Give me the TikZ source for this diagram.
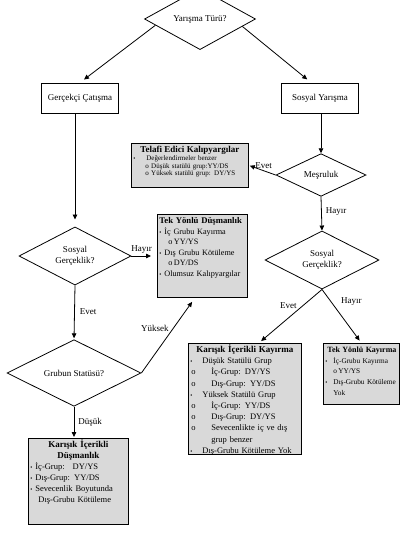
\documentclass[tikz,border=0pt]{standalone}
\usepackage{fontspec}
\setmainfont{Liberation Serif}
\usetikzlibrary{shapes.geometric,arrows.meta}

\begin{document}
\begin{tikzpicture}[x=1pt,y=-1pt,line width=0.8pt,
		karar/.style={draw,shape=diamond,inner sep=0pt,align=center,font=\fontsize{9}{10.5}\selectfont},
		kutu/.style={draw,rectangle,font=\fontsize{9}{10.5}\selectfont},
		gribox/.style={draw,fill=gray!30,anchor=north west,inner sep=2pt,align=left,text height=7pt},
		ok/.style={-{Triangle[length=5pt,width=4.5pt]}},
		etiket/.style={font=\fontsize{9}{10}\selectfont,inner sep=2pt}]
		\def\bl#1{\makebox[#1][l]{\fontsize{6}{6}\selectfont\textbullet}}
		\def\bas#1{{\bfseries\fontsize{9}{9}\selectfont #1}}
		\useasboundingbox (0,0) rectangle (418,535);
		% karar kutulari
		\node[karar,minimum width=111pt,minimum height=31pt] (yt) at (200,19) {Yarışma Türü?};
		\node[karar,minimum width=112pt,minimum height=50pt] (sgl) at (75,256) {Sosyal\\Gerçeklik?};
		\node[karar,minimum width=134pt,minimum height=62pt] (gs) at (74,373) {Grubun Statüsü?};
		\node[karar,minimum width=90pt,minimum height=36pt] (mes) at (321,175) {Meşruluk};
		\node[karar,minimum width=114pt,minimum height=50pt] (sgr) at (322,260) {Sosyal\\Gerçeklik?};
		% duz kutular
		\node[kutu,minimum width=77pt,minimum height=30pt] (gc) at (80,98) {Gerçekçi Çatışma};
		\node[kutu,minimum width=77pt,minimum height=30pt] (sy) at (320,98) {Sosyal Yarışma};
		% gri kutular
		\node[gribox,text width=113pt,text depth=33pt,font=\fontsize{7}{7.8}\selectfont] (tek) at (131,143)
		{\makebox[113pt]{\bas{Telafi Edici Kalıpyargılar}}\\
			\bl{13pt}Değerlendirmeler benzer\\
			\hspace*{12pt}o Düşük statülü grup:YY/DS\\
			\hspace*{12pt}o Yüksek statülü grup: DY/YS};
		\node[gribox,text width=86pt,text depth=72pt,font=\fontsize{8.2}{10.6}\selectfont] (tyd) at (157,214)
		{\makebox[86pt][l]{\bfseries\fontsize{8.7}{9}\selectfont Tek Yönlü Düşmanlık}\\
			\bl{5pt}İç Grubu Kayırma\\
			\hspace*{9pt}o\,YY/YS\\
			\bl{5pt}Dış Grubu Kötüleme\\
			\hspace*{9pt}o\,DY/DS\\
			\bl{5pt}Olumsuz Kalıpyargılar};
		\node[gribox,text width=109pt,text depth=100pt,font=\fontsize{8.5}{11.2}\selectfont] (kik) at (188,343)
		{\makebox[109pt]{\bas{Karışık İçerikli Kayırma}}\\
			\bl{12pt}Düşük Statülü Grup\\
			\makebox[21pt][l]{\hspace*{1pt}o}İç-Grup: DY/YS\\
			\makebox[21pt][l]{\hspace*{1pt}o}Dış-Grup: YY/DS\\
			\bl{12pt}Yüksek Statülü Grup\\
			\makebox[21pt][l]{\hspace*{1pt}o}İç-Grup: YY/DS\\
			\makebox[21pt][l]{\hspace*{1pt}o}Dış-Grup: DY/YS\\
			\makebox[21pt][l]{\hspace*{1pt}o}Sevecenlikte iç ve dış\\
			\hspace*{21pt}grup benzer\\
			\bl{12pt}Dış-Grubu Kötüleme Yok};
		\node[gribox,text width=72pt,text depth=50pt,font=\fontsize{7.3}{10.7}\selectfont] (tyk) at (323,343)
		{\hspace*{2pt}{\bfseries\fontsize{8}{9}\selectfont Tek Yönlü Kayırma}\\
			\bl{8pt}İç-Grubu Kayırma\\
			\hspace*{8pt}o\,YY/YS\\
			\bl{8pt}\mbox{Dış-Grubu Kötüleme}\\
			\hspace*{8pt}Yok};
		\node[gribox,text width=96pt,text depth=75pt,font=\fontsize{8.5}{11}\selectfont] (kid) at (28,438)
		{\makebox[96pt]{\bas{Karışık İçerikli}}\\
			\makebox[96pt]{\bas{Düşmanlık}}\\
			\bl{5pt}İç-Grup:\hspace{8pt}DY/YS\\
			\bl{5pt}Dış-Grup: YY/DS\\
			\bl{5pt}Sevecenlik Boyutunda\\
			\hspace*{8pt}Dış-Grubu Kötüleme};
		% oklar
		\draw[ok,shorten >=5pt] (yt.188) -- (gc.north);
		\draw[ok,shorten >=5pt] (yt.350) -- (sy.120);
		\draw[ok,shorten >=7pt] (sgl.north |- gc.south) -- (sgl.north);
		\draw[ok,shorten >=6pt] (sgl.east) -- node[etiket,above,pos=.4] {Hayır} (sgl.east -| tyd.west);
		\draw[ok,shorten >=1pt] (sgl.south) -- node[etiket,right,pos=.48,xshift=3pt] {Evet} (gs.north);
		\draw[ok,shorten >=5pt] (gs.east) -- node[etiket,left,pos=.59,xshift=-2pt] {Yüksek} (tyd.-100);
		\draw[ok,shorten >=1pt] (gs.south) -- node[etiket,right,pos=.5,xshift=2pt] {Düşük} (gs.south |- kid.north);
		\draw[ok] (mes.north |- sy.south) -- (mes.north);
		\draw[ok,shorten >=1pt] (mes.west) -- node[etiket,above,pos=.45] {Evet} (tek.east);
		\draw[ok] (mes.south) -- node[etiket,right,pos=.45,xshift=2pt] {Hayır} (sgr.north);
		\draw[ok,shorten >=3pt] (sgr.south) -- node[etiket,left,pos=.3,xshift=-4pt] {Evet} (kik.76);
		\draw[ok,shorten >=3pt] (sgr.south) -- node[etiket,right,pos=.22,xshift=8pt] {Hayır} (tyk.north);
	\end{tikzpicture}
\end{document}
